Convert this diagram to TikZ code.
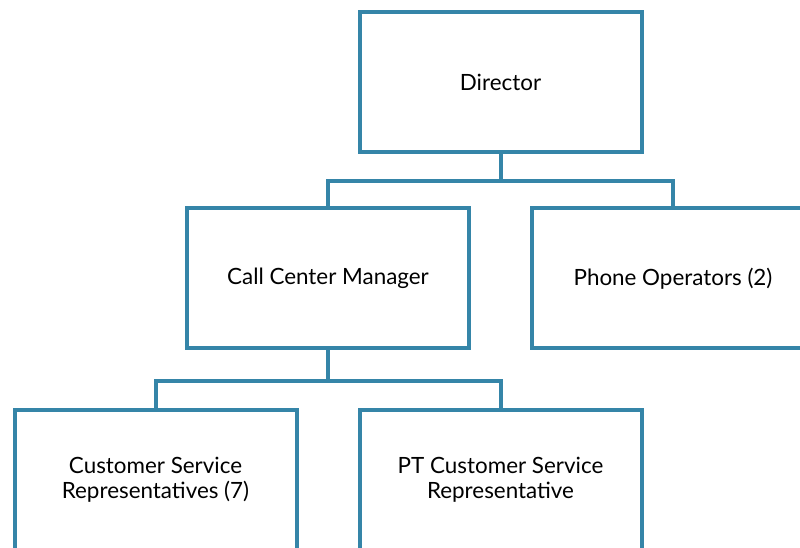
\documentclass[tikz,border=0pt]{standalone}
\usepackage{fontspec}
\setmainfont{Lato}
\definecolor{orgblue}{HTML}{3585A8}
\tikzset{
  orgbox/.style={draw=orgblue, line width=3pt, rectangle, minimum width=211.5pt, minimum height=105pt, align=center, font=\fontsize{16.8}{18.8}\selectfont, inner sep=0pt},
  link/.style={draw=orgblue, line width=3pt}
}

\begin{document}
\begin{tikzpicture}[x=0.75pt, y=-0.75pt]
            \useasboundingbox (0,0) rectangle (800,548);
            \clip (0,0) rectangle (800,548);
            \node [orgbox] (director) at (500.5, 82) {Director};
            \node [orgbox] (manager) at (328, 278.5) {Call Center Manager};
            \node [orgbox] (phone) at (673, 278.5) {Phone Operators (2)};
            \node [orgbox] (csr) at (155.5, 480) {Customer Service\\Representatives (7)};
            \node [orgbox] (ptcsr) at (500.5, 480) {PT Customer Service\\Representative};
            \draw [link] (director.south) -- ++(0, 27) -| (manager.north);
            \draw [link] (director.south) -- ++(0, 27) -| (phone.north);
            \draw [link] (manager.south) -- ++(0, 31) -| (csr.north);
            \draw [link] (manager.south) -- ++(0, 31) -| (ptcsr.north);
        \end{tikzpicture}
\end{document}
